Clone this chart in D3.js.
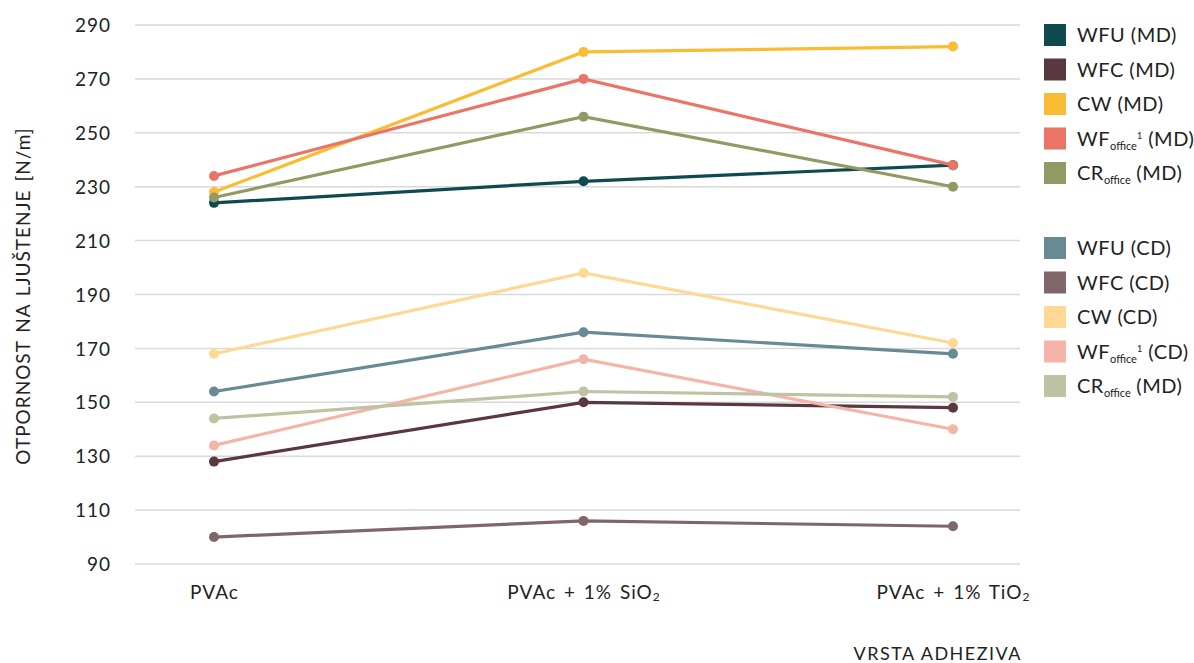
<!DOCTYPE html>
<html><head><meta charset="utf-8">
<script src="https://cdn.jsdelivr.net/npm/d3@7"></script>
<style>
body{margin:0;background:#fff;}
text{font-family:"Lato","Open Sans",sans-serif;fill:#222;}
</style></head>
<body>
<svg id="chart" width="1194" height="663"></svg>
<script>
const categories = ["PVAc", "PVAc + 1% SiO", "PVAc + 1% TiO"];
const categorySubs = ["", "2", "2"];
const yTicks = [90,110,130,150,170,190,210,230,250,270,290];

const seriesNames = ["WFU (MD)","WFC (MD)","CW (MD)","WFoffice1 (MD)","CRoffice (MD)",
                     "WFU (CD)","WFC (CD)","CW (CD)","WFoffice1 (CD)","CRoffice (MD) light"];
const legendMain = ["WFU","WFC","CW","WF","CR","WFU","WFC","CW","WF","CR"];
const legendSub  = ["","","","office","office","","","","office","office"];
const legendSup  = ["","","","1","","","","","1",""];
const legendTail = [" (MD)"," (MD)"," (MD)"," (MD)"," (MD)"," (CD)"," (CD)"," (CD)"," (CD)"," (MD)"];
const colors = ["#0f4a50","#5a3840","#f9bc33","#eb7468","#929a63",
                "#688a94","#7f6769","#fdd994","#f4b5a8","#bfc2a3"];

const wfuMD = [224, 232, 238];
const wfcMD = [128, 150, 148];
const cwMD  = [228, 280, 282];
const wfoMD = [234, 270, 238];
const croMD = [226, 256, 230];
const wfuCD = [154, 176, 168];
const wfcCD = [100, 106, 104];
const cwCD  = [168, 198, 172];
const wfoCD = [134, 166, 140];
const croCD = [144, 154, 152];
const seriesValues = [wfuMD, wfcMD, cwMD, wfoMD, croMD, wfuCD, wfcCD, cwCD, wfoCD, croCD];

const FONT = '"Lato","Open Sans",sans-serif';
const svg = d3.select("#chart");
const x = d3.scalePoint().domain(categories).range([214, 953]);
const y = d3.scaleLinear().domain([90, 290]).range([564, 25]);

// gridlines
const grid = svg.append("g");
grid.selectAll("line").data(yTicks).join("line")
  .attr("x1", 135).attr("x2", 1020)
  .attr("y1", d => y(d)).attr("y2", d => y(d))
  .attr("stroke", "#d9d9d9").attr("stroke-width", 1.5);

// y axis labels
const yAxis = d3.axisLeft(y).tickValues(yTicks).tickSize(0).tickPadding(0);
const yg = svg.append("g").attr("transform", "translate(111,0)").call(yAxis);
yg.select(".domain").remove();
yg.selectAll("text").style("font-family", FONT)
  .style("font-size", "19px").style("letter-spacing", "1px").attr("fill", "#222").attr("dy", "0.35em");

// x axis labels
const xAxis = d3.axisBottom(x).tickSize(0).tickPadding(0);
const xg = svg.append("g").attr("transform", "translate(0,584)").call(xAxis);
xg.select(".domain").remove();
xg.selectAll("text").each(function(d, i) {
  const t = d3.select(this);
  t.text(null).attr("dy", "0.8em")
   .style("font-family", FONT).style("font-size", "19px")
   .style("letter-spacing", "1px").style("word-spacing", "2px").attr("fill", "#222");
  t.append("tspan").text(d);
  if (categorySubs[i]) t.append("tspan").attr("font-size", "12px").attr("dy", "2").text(categorySubs[i]);
});

// lines
const line = d3.line().x((d, i) => x(categories[i])).y(d => y(d));
seriesValues.forEach((vals, s) => {
  const g = svg.append("g");
  g.append("path").datum(vals).attr("d", line)
    .attr("fill", "none").attr("stroke", colors[s]).attr("stroke-width", 3.2);
  g.selectAll("circle").data(vals).join("circle")
    .attr("cx", (d, i) => x(categories[i])).attr("cy", d => y(d)).attr("r", 5)
    .attr("fill", colors[s]);
});

// y axis title
svg.append("text")
  .attr("transform", "translate(30,296) rotate(-90)")
  .attr("text-anchor", "middle")
  .style("font-size", "19px").style("letter-spacing", "1px").style("word-spacing", "2px")
  .text("OTPORNOST NA LJUŠTENJE [N/m]");

// x axis title
svg.append("text").attr("x", 1022).attr("y", 660)
  .attr("text-anchor", "end").style("font-size", "18px").style("letter-spacing", "1.5px")
  .text("VRSTA ADHEZIVA");

// legend
const legTops = [24, 58.5, 93, 127.5, 162, 237, 271.5, 306, 340.5, 375];
seriesNames.forEach((n, i) => {
  const g = svg.append("g").attr("transform", `translate(1044,${legTops[i]})`);
  g.append("rect").attr("width", 22).attr("height", 22).attr("fill", colors[i]);
  const t = g.append("text").attr("x", 33).attr("y", 11).attr("dy", "0.36em")
    .style("font-size", "20px").style("letter-spacing", "0.5px");
  t.append("tspan").text(legendMain[i]);
  if (legendSub[i]) t.append("tspan").attr("font-size", "11px").style("letter-spacing", "0px").attr("dy", "4").text(legendSub[i]);
  if (legendSup[i]) t.append("tspan").attr("font-size", "9px").attr("dy", "-11").text(legendSup[i]);
  const dyBack = legendSub[i] ? (legendSup[i] ? 7 : -4) : 0;
  t.append("tspan").attr("dy", dyBack).text(legendTail[i]);
});
</script>
</body></html>
